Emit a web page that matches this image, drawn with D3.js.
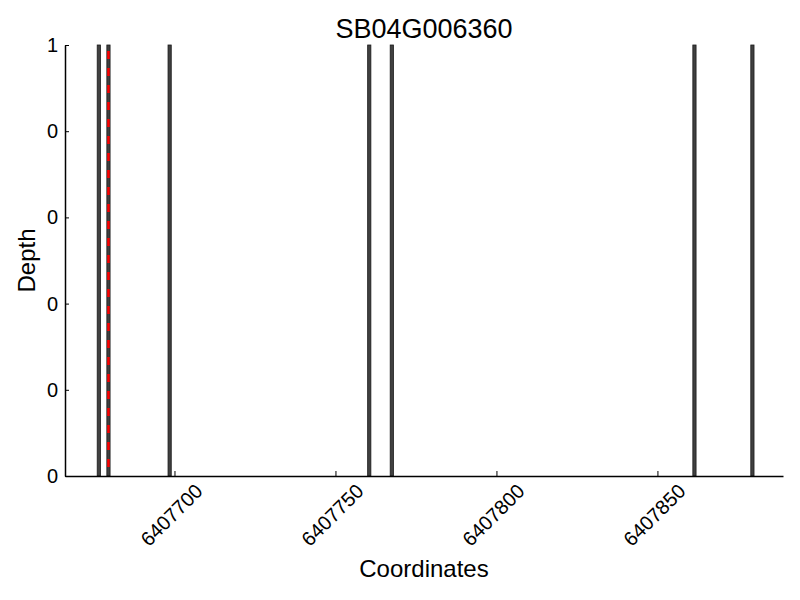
<!DOCTYPE html>
<html>
<head>
<meta charset="utf-8">
<script src="https://cdn.jsdelivr.net/npm/d3@7"></script>
<style>
  body { margin: 0; background: #fff; }
  text { font-family: "Liberation Sans", Arial, sans-serif; fill: #000; }
</style>
</head>
<body>
<div class="graph"></div>
<script>
// data
var title = "SB04G006360";
var positions = [6407676, 6407679, 6407698, 6407760, 6407767, 6407861, 6407879];
var depths = [1, 1, 1, 1, 1, 1, 1];
var markerPos = 6407679.5;
var xDomain = [6407666, 6407889];
var xTicks = [6407700, 6407750, 6407800, 6407850];
var yTicks = [0, 0.2, 0.4, 0.6, 0.8, 1];
var yTickLabels = ["0", "0", "0", "0", "0", "1"];

var margin = { top: 45, right: 17, bottom: 124, left: 65 };
var width = 800 - margin.left - margin.right,
    height = 600 - margin.top - margin.bottom;

var svg = d3.select('.graph').append('svg')
    .attr('width', 800)
    .attr('height', 600);

var chart = svg.append('g')
    .attr('transform', 'translate(' + margin.left + ',' + margin.top + ')');

var x = d3.scaleLinear().domain(xDomain).range([0, width]);
var y = d3.scaleLinear().domain([0, 1]).range([height, 0]);

// bars, width of one coordinate
chart.append('g').selectAll('rect')
    .data(positions)
    .enter().append('rect')
    .attr('x', function (d) { return x(d); })
    .attr('width', function (d) { return x(d + 1) - x(d); })
    .attr('y', function (d, i) { return y(depths[i]); })
    .attr('height', function (d, i) { return y(0) - y(depths[i]); })
    .style('fill', '#404040')
    .style('stroke', '#1a1a1a')
    .style('stroke-width', 0.8);

// red dashed marker
chart.append('line')
    .attr('x1', x(markerPos)).attr('x2', x(markerPos))
    .attr('y1', y(1)).attr('y2', y(0))
    .style('stroke', 'red')
    .style('stroke-width', 2.5)
    .style('stroke-dasharray', '8,9')
    .style('stroke-dashoffset', -6);

// X axis
var xAxis = chart.append('g')
    .attr('transform', 'translate(0,' + height + ')')
    .call(d3.axisBottom(x).tickValues(xTicks).tickSizeInner(-5).tickSizeOuter(0).tickFormat(''));
xAxis.select('.domain').style('stroke-width', 1.5);
xAxis.selectAll('.tick line').style('stroke-width', 1);

chart.append('g').selectAll('text')
    .data(xTicks)
    .enter().append('text')
    .attr('transform', function (d) { return 'translate(' + (x(d) - 3) + ',' + (height + 39) + ') rotate(-45)'; })
    .attr('text-anchor', 'middle')
    .attr('dy', '0.35em')
    .style('font-size', '20px')
    .text(function (d) { return d; });

// Y axis
var yAxis = chart.append('g')
    .call(d3.axisLeft(y).tickValues(yTicks).tickSizeInner(-4).tickSizeOuter(0)
        .tickPadding(7)
        .tickFormat(function (d, i) { return yTickLabels[i]; }));
yAxis.select('.domain').style('stroke-width', 1.5);
yAxis.selectAll('.tick text').style('font-size', '20px').attr('font-family', null);

// title and labels
svg.append('text')
    .attr('x', margin.left + width / 2)
    .attr('y', 38)
    .attr('text-anchor', 'middle')
    .style('font-size', '27px')
    .text(title);

svg.append('text')
    .attr('x', margin.left + width / 2)
    .attr('y', 577)
    .attr('text-anchor', 'middle')
    .style('font-size', '24px')
    .text('Coordinates');

svg.append('text')
    .attr('transform', 'translate(35,' + (margin.top + height / 2) + ') rotate(-90)')
    .attr('text-anchor', 'middle')
    .style('font-size', '24px')
    .text('Depth');
</script>
</body>
</html>
